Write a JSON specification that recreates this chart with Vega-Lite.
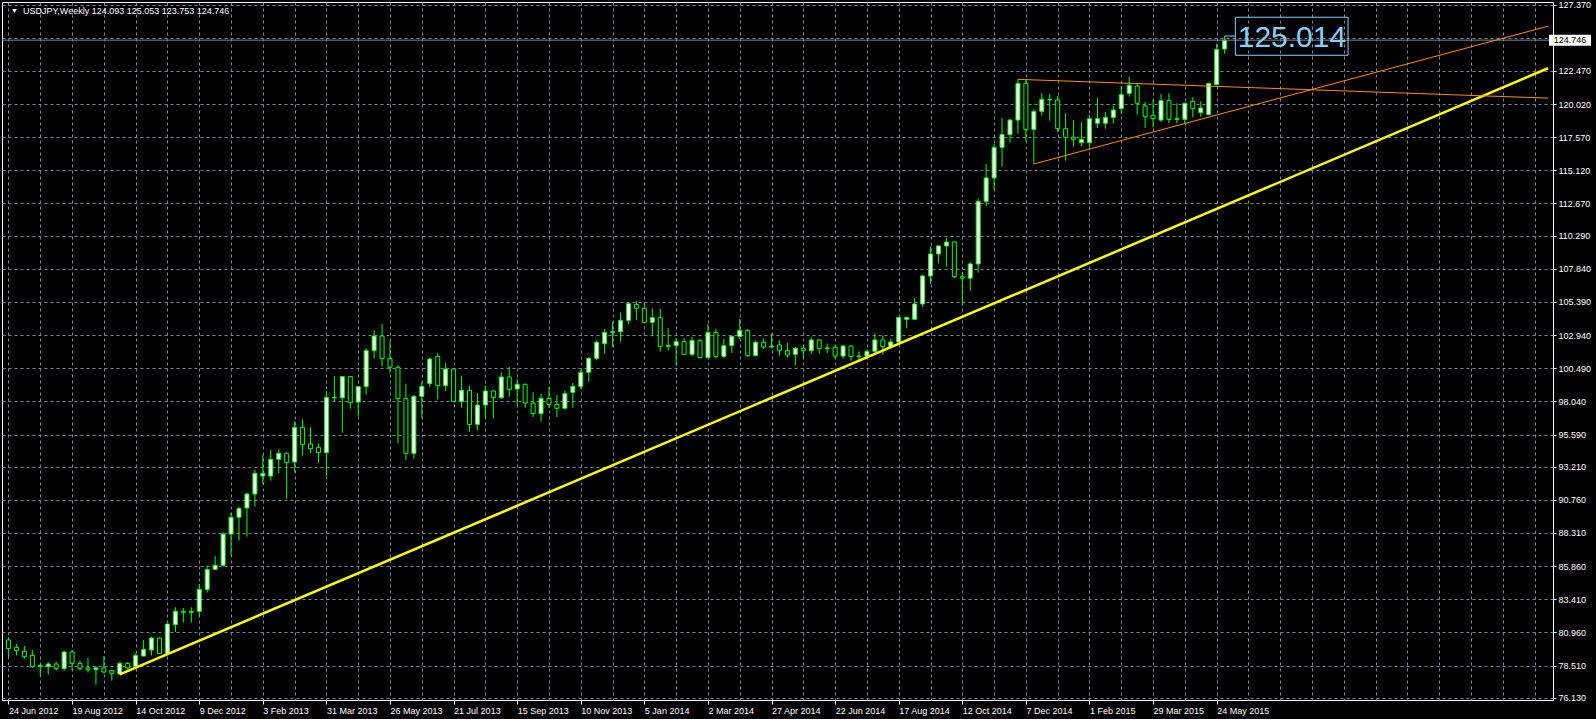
{
  "$schema": "https://vega.github.io/schema/vega-lite/v6.json",
  "width": 1551,
  "height": 698,
  "autosize": {"type": "none"},
  "padding": {"left": 2, "top": 2, "right": 43, "bottom": 19},
  "background": "#000000",
  "config": {"view": {"stroke": "#ffffff", "strokeWidth": 1}},
  "resolve": {"axis": {"x": "independent", "y": "independent"}},
  "datasets": {
    "candles": [
      {"d":"2012-06-24","o":80.40,"h":80.59,"l":79.12,"c":79.76},
      {"d":"2012-07-01","o":79.85,"h":80.10,"l":79.26,"c":79.61},
      {"d":"2012-07-08","o":79.56,"h":79.95,"l":79.02,"c":79.16},
      {"d":"2012-07-15","o":79.26,"h":79.66,"l":78.33,"c":78.43},
      {"d":"2012-07-22","o":78.43,"h":78.62,"l":77.74,"c":78.50},
      {"d":"2012-07-29","o":78.43,"h":78.77,"l":77.83,"c":78.62},
      {"d":"2012-08-05","o":78.62,"h":78.82,"l":78.13,"c":78.28},
      {"d":"2012-08-12","o":78.28,"h":79.61,"l":78.13,"c":79.51},
      {"d":"2012-08-19","o":79.51,"h":79.66,"l":78.18,"c":78.67},
      {"d":"2012-08-26","o":78.67,"h":78.87,"l":78.13,"c":78.28},
      {"d":"2012-09-02","o":78.33,"h":79.07,"l":77.98,"c":78.20},
      {"d":"2012-09-09","o":78.20,"h":78.47,"l":77.09,"c":78.33},
      {"d":"2012-09-16","o":78.33,"h":79.21,"l":77.93,"c":78.03},
      {"d":"2012-09-23","o":78.13,"h":78.18,"l":77.39,"c":77.93},
      {"d":"2012-09-30","o":77.88,"h":78.77,"l":77.85,"c":78.67},
      {"d":"2012-10-07","o":78.67,"h":78.77,"l":78.18,"c":78.33},
      {"d":"2012-10-14","o":78.43,"h":79.41,"l":78.23,"c":79.26},
      {"d":"2012-10-21","o":79.21,"h":80.40,"l":79.21,"c":79.71},
      {"d":"2012-10-28","o":79.66,"h":80.64,"l":79.26,"c":80.54},
      {"d":"2012-11-04","o":80.54,"h":80.59,"l":79.36,"c":79.41},
      {"d":"2012-11-11","o":79.41,"h":81.58,"l":79.31,"c":81.58},
      {"d":"2012-11-18","o":81.53,"h":82.81,"l":80.99,"c":82.52},
      {"d":"2012-11-25","o":82.52,"h":82.76,"l":81.68,"c":82.45},
      {"d":"2012-12-02","o":82.45,"h":82.81,"l":81.68,"c":82.50},
      {"d":"2012-12-09","o":82.52,"h":84.54,"l":82.12,"c":84.14},
      {"d":"2012-12-16","o":84.14,"h":85.90,"l":83.90,"c":85.60},
      {"d":"2012-12-23","o":85.62,"h":86.61,"l":85.57,"c":85.92},
      {"d":"2012-12-30","o":85.92,"h":88.38,"l":85.82,"c":88.23},
      {"d":"2013-01-06","o":88.23,"h":89.81,"l":86.61,"c":89.47},
      {"d":"2013-01-13","o":89.47,"h":90.26,"l":87.74,"c":90.11},
      {"d":"2013-01-20","o":90.16,"h":91.29,"l":88.04,"c":91.19},
      {"d":"2013-01-27","o":91.19,"h":92.97,"l":90.26,"c":92.72},
      {"d":"2013-02-03","o":92.52,"h":94.10,"l":91.93,"c":92.72},
      {"d":"2013-02-10","o":92.52,"h":94.45,"l":92.18,"c":93.76},
      {"d":"2013-02-17","o":93.76,"h":94.49,"l":92.72,"c":94.20},
      {"d":"2013-02-24","o":94.20,"h":94.25,"l":90.85,"c":93.51},
      {"d":"2013-03-03","o":93.56,"h":96.56,"l":92.77,"c":96.12},
      {"d":"2013-03-10","o":96.12,"h":96.71,"l":94.05,"c":94.84},
      {"d":"2013-03-17","o":94.89,"h":96.12,"l":94.20,"c":94.54},
      {"d":"2013-03-24","o":94.64,"h":94.94,"l":93.51,"c":94.25},
      {"d":"2013-03-31","o":94.25,"h":98.78,"l":92.52,"c":98.34},
      {"d":"2013-04-07","o":98.34,"h":99.92,"l":98.04,"c":98.30},
      {"d":"2013-04-14","o":98.30,"h":99.92,"l":95.73,"c":99.87},
      {"d":"2013-04-21","o":99.87,"h":99.92,"l":97.50,"c":97.94},
      {"d":"2013-04-28","o":97.99,"h":99.18,"l":96.96,"c":99.13},
      {"d":"2013-05-05","o":99.13,"h":101.99,"l":98.54,"c":101.79},
      {"d":"2013-05-12","o":101.79,"h":103.32,"l":101.20,"c":102.87},
      {"d":"2013-05-19","o":102.87,"h":103.76,"l":100.61,"c":101.20},
      {"d":"2013-05-26","o":101.20,"h":102.48,"l":100.16,"c":100.56},
      {"d":"2013-06-02","o":100.56,"h":100.71,"l":94.94,"c":98.24},
      {"d":"2013-06-09","o":98.24,"h":99.35,"l":93.70,"c":94.20},
      {"d":"2013-06-16","o":94.20,"h":98.51,"l":93.80,"c":98.41},
      {"d":"2013-06-23","o":98.41,"h":99.50,"l":96.84,"c":99.15},
      {"d":"2013-06-30","o":99.35,"h":101.27,"l":99.10,"c":101.17},
      {"d":"2013-07-07","o":101.37,"h":101.57,"l":98.17,"c":99.20},
      {"d":"2013-07-14","o":99.20,"h":100.88,"l":98.81,"c":100.43},
      {"d":"2013-07-21","o":100.43,"h":100.48,"l":97.98,"c":98.02},
      {"d":"2013-07-28","o":98.02,"h":99.94,"l":97.57,"c":98.86},
      {"d":"2013-08-04","o":98.86,"h":99.20,"l":95.80,"c":96.34},
      {"d":"2013-08-11","o":96.34,"h":98.66,"l":95.90,"c":97.77},
      {"d":"2013-08-18","o":97.77,"h":99.20,"l":96.79,"c":98.81},
      {"d":"2013-08-25","o":98.81,"h":98.86,"l":96.79,"c":98.31},
      {"d":"2013-09-01","o":98.31,"h":100.19,"l":98.22,"c":99.84},
      {"d":"2013-09-08","o":99.84,"h":100.58,"l":98.36,"c":98.91},
      {"d":"2013-09-15","o":98.96,"h":99.69,"l":97.72,"c":99.30},
      {"d":"2013-09-22","o":99.30,"h":99.35,"l":97.57,"c":97.92},
      {"d":"2013-09-29","o":97.92,"h":98.71,"l":96.88,"c":97.13},
      {"d":"2013-10-06","o":97.13,"h":98.61,"l":96.54,"c":98.26},
      {"d":"2013-10-13","o":98.26,"h":99.10,"l":97.53,"c":97.82},
      {"d":"2013-10-20","o":97.82,"h":98.51,"l":96.88,"c":97.53},
      {"d":"2013-10-27","o":97.53,"h":98.86,"l":97.43,"c":98.61},
      {"d":"2013-11-03","o":98.71,"h":99.40,"l":97.57,"c":99.15},
      {"d":"2013-11-10","o":99.15,"h":100.38,"l":98.96,"c":100.19},
      {"d":"2013-11-17","o":100.19,"h":101.32,"l":99.50,"c":101.22},
      {"d":"2013-11-24","o":101.22,"h":102.55,"l":101.07,"c":102.41},
      {"d":"2013-12-01","o":102.30,"h":103.39,"l":101.57,"c":103.14},
      {"d":"2013-12-08","o":103.14,"h":103.93,"l":102.06,"c":103.19},
      {"d":"2013-12-15","o":103.19,"h":104.62,"l":102.45,"c":104.03},
      {"d":"2013-12-22","o":104.03,"h":105.31,"l":103.74,"c":105.26},
      {"d":"2013-12-29","o":105.21,"h":105.46,"l":104.03,"c":104.92},
      {"d":"2014-01-05","o":104.92,"h":105.31,"l":103.83,"c":103.88},
      {"d":"2014-01-12","o":103.88,"h":104.92,"l":102.85,"c":104.23},
      {"d":"2014-01-19","o":104.23,"h":104.87,"l":101.72,"c":102.11},
      {"d":"2014-01-26","o":102.11,"h":103.44,"l":101.81,"c":102.16},
      {"d":"2014-02-02","o":102.16,"h":102.70,"l":100.68,"c":102.45},
      {"d":"2014-02-09","o":102.45,"h":102.70,"l":101.47,"c":101.52},
      {"d":"2014-02-16","o":101.52,"h":102.80,"l":101.37,"c":102.55},
      {"d":"2014-02-23","o":102.55,"h":102.65,"l":101.22,"c":101.27},
      {"d":"2014-03-02","o":101.27,"h":103.74,"l":101.22,"c":103.14},
      {"d":"2014-03-09","o":103.14,"h":103.39,"l":101.22,"c":101.37},
      {"d":"2014-03-16","o":101.37,"h":102.65,"l":101.22,"c":102.16},
      {"d":"2014-03-23","o":102.16,"h":102.90,"l":101.62,"c":102.85},
      {"d":"2014-03-30","o":102.85,"h":104.13,"l":102.65,"c":103.29},
      {"d":"2014-04-06","o":103.29,"h":103.39,"l":101.32,"c":101.42},
      {"d":"2014-04-13","o":101.42,"h":102.55,"l":101.37,"c":102.41},
      {"d":"2014-04-20","o":102.41,"h":102.70,"l":101.91,"c":102.06},
      {"d":"2014-04-27","o":102.06,"h":103.05,"l":101.96,"c":102.11},
      {"d":"2014-05-04","o":102.21,"h":102.55,"l":101.42,"c":101.81},
      {"d":"2014-05-11","o":101.81,"h":102.36,"l":101.27,"c":101.47},
      {"d":"2014-05-18","o":101.52,"h":102.06,"l":100.73,"c":101.96},
      {"d":"2014-05-25","o":101.96,"h":102.23,"l":101.20,"c":101.79},
      {"d":"2014-06-01","o":101.79,"h":102.77,"l":101.54,"c":102.58},
      {"d":"2014-06-08","o":102.58,"h":102.63,"l":101.59,"c":101.94},
      {"d":"2014-06-15","o":101.94,"h":102.33,"l":101.59,"c":101.99},
      {"d":"2014-06-22","o":102.04,"h":102.23,"l":101.20,"c":101.39},
      {"d":"2014-06-29","o":101.39,"h":102.23,"l":101.20,"c":102.13},
      {"d":"2014-07-06","o":102.13,"h":102.18,"l":101.05,"c":101.35},
      {"d":"2014-07-13","o":101.35,"h":101.74,"l":101.10,"c":101.39},
      {"d":"2014-07-20","o":101.39,"h":101.89,"l":101.15,"c":101.74},
      {"d":"2014-07-27","o":101.74,"h":103.07,"l":101.64,"c":102.58},
      {"d":"2014-08-03","o":102.58,"h":102.92,"l":101.49,"c":102.08},
      {"d":"2014-08-10","o":102.08,"h":102.68,"l":102.03,"c":102.43},
      {"d":"2014-08-17","o":102.43,"h":104.30,"l":102.38,"c":104.25},
      {"d":"2014-08-24","o":104.11,"h":104.30,"l":103.46,"c":104.25},
      {"d":"2014-08-31","o":104.11,"h":105.68,"l":104.06,"c":105.24},
      {"d":"2014-09-07","o":105.24,"h":107.41,"l":105.04,"c":107.31},
      {"d":"2014-09-14","o":107.31,"h":109.48,"l":106.72,"c":108.94},
      {"d":"2014-09-21","o":108.94,"h":109.58,"l":108.25,"c":109.53},
      {"d":"2014-09-28","o":109.53,"h":110.12,"l":108.00,"c":109.82},
      {"d":"2014-10-05","o":109.82,"h":109.87,"l":107.16,"c":107.26},
      {"d":"2014-10-12","o":107.26,"h":107.61,"l":105.14,"c":107.15},
      {"d":"2014-10-19","o":107.15,"h":108.34,"l":106.23,"c":108.20},
      {"d":"2014-10-26","o":108.20,"h":113.03,"l":107.56,"c":112.83},
      {"d":"2014-11-02","o":112.83,"h":115.59,"l":112.49,"c":114.56},
      {"d":"2014-11-09","o":114.56,"h":117.07,"l":113.67,"c":116.82},
      {"d":"2014-11-16","o":116.82,"h":118.99,"l":115.39,"c":117.76},
      {"d":"2014-11-23","o":117.76,"h":118.94,"l":117.17,"c":118.84},
      {"d":"2014-11-30","o":118.84,"h":121.85,"l":117.81,"c":121.55},
      {"d":"2014-12-07","o":121.55,"h":121.80,"l":117.27,"c":118.15},
      {"d":"2014-12-14","o":118.15,"h":119.63,"l":115.59,"c":119.48},
      {"d":"2014-12-21","o":119.48,"h":120.82,"l":119.19,"c":120.37},
      {"d":"2014-12-28","o":120.37,"h":120.77,"l":118.79,"c":120.33},
      {"d":"2015-01-04","o":120.33,"h":120.62,"l":117.96,"c":118.20},
      {"d":"2015-01-11","o":118.20,"h":119.34,"l":115.84,"c":117.56},
      {"d":"2015-01-18","o":117.56,"h":118.84,"l":116.87,"c":117.41},
      {"d":"2015-01-25","o":117.17,"h":118.70,"l":116.92,"c":117.41},
      {"d":"2015-02-01","o":117.17,"h":119.19,"l":116.67,"c":118.94},
      {"d":"2015-02-08","o":118.60,"h":120.47,"l":118.25,"c":118.94},
      {"d":"2015-02-15","o":118.60,"h":119.44,"l":118.20,"c":119.04},
      {"d":"2015-02-22","o":119.04,"h":119.88,"l":118.60,"c":119.58},
      {"d":"2015-03-01","o":119.68,"h":121.36,"l":119.29,"c":120.72},
      {"d":"2015-03-08","o":120.82,"h":122.05,"l":120.57,"c":121.41},
      {"d":"2015-03-15","o":121.36,"h":121.51,"l":119.24,"c":120.08},
      {"d":"2015-03-22","o":119.88,"h":120.17,"l":118.25,"c":119.09},
      {"d":"2015-03-29","o":119.19,"h":120.37,"l":118.30,"c":118.94},
      {"d":"2015-04-05","o":118.84,"h":120.77,"l":118.70,"c":120.27},
      {"d":"2015-04-12","o":120.27,"h":120.82,"l":118.60,"c":118.89},
      {"d":"2015-04-19","o":118.89,"h":120.08,"l":118.60,"c":118.94},
      {"d":"2015-04-26","o":118.89,"h":120.13,"l":118.60,"c":120.08},
      {"d":"2015-05-03","o":120.22,"h":120.52,"l":119.04,"c":119.68},
      {"d":"2015-05-10","o":119.39,"h":120.22,"l":119.09,"c":119.73},
      {"d":"2015-05-17","o":119.24,"h":121.60,"l":119.19,"c":121.55},
      {"d":"2015-05-24","o":121.46,"h":124.46,"l":121.41,"c":124.07},
      {"d":"2015-05-31","o":124.093,"h":125.053,"l":123.753,"c":124.746}
    ],
    "trend": [
      {"id":"yellow","d":"2012-09-30T00:00:00Z","p":77.85},
      {"id":"yellow","d":"2016-03-10T19:30:00Z","p":122.67},
      {"id":"upper","d":"2014-11-30T00:00:00Z","p":121.85},
      {"id":"upper","d":"2016-03-10T19:30:00Z","p":120.46},
      {"id":"lower","d":"2014-12-14T00:00:00Z","p":115.59},
      {"id":"lower","d":"2016-03-10T19:30:00Z","p":125.78},
      {"id":"callout","d":"2015-05-31T00:00:00Z","p":125.053},
      {"id":"callout","d":"2015-06-09T10:48:00Z","p":125.053}
    ]
  },
  "layer": [
    {
      "data": {"name": "candles"},
      "mark": {"type": "rule", "color": "#00ff00", "strokeWidth": 1},
      "encoding": {
        "x": {"field": "d", "type": "temporal",
          "scale": {"type": "utc", "domain": [1340382600000, 1457638200000], "nice": false},
          "axis": {
            "values": [1340496000000,1342915200000,1345334400000,1347753600000,1350172800000,1352592000000,1355011200000,1357430400000,1359849600000,1362268800000,1364688000000,1367107200000,1369526400000,1371945600000,1374364800000,1376784000000,1379203200000,1381622400000,1384041600000,1386460800000,1388880000000,1391299200000,1393718400000,1396137600000,1398556800000,1400976000000,1403395200000,1405814400000,1408233600000,1410652800000,1413072000000,1415491200000,1417910400000,1420329600000,1422748800000,1425168000000,1427587200000,1430006400000,1432425600000,1434844800000,1437264000000,1439683200000,1442102400000,1444521600000,1446940800000,1449360000000,1451779200000,1454198400000,1456617600000],
            "grid": true, "gridColor": "#778899", "gridDash": [3, 3], "gridWidth": 1,
            "domain": false, "title": null,
            "ticks": true, "tickColor": "#ffffff", "tickSize": 4,
            "tickOpacity": {"condition": {"test": "round((datum.value - 1340496000000) / 2419200000) % 2 == 0 && datum.value <= 1432425600000", "value": 1}, "value": 0},
            "labelExpr": "(round((datum.value - 1340496000000) / 2419200000) % 2 == 0 && datum.value <= 1432425600000) ? utcFormat(datum.value, '%-d %b %Y') : ''",
            "labelAlign": "left", "labelColor": "#ffffff", "labelFont": "Liberation Sans", "labelFontSize": 9,
            "labelPadding": 2, "labelOverlap": false, "labelFlush": false, "labelBound": false
          }
        },
        "y": {"field": "l", "type": "quantitative",
          "scale": {"domain": [75.96, 127.568], "nice": false, "zero": false},
          "axis": {
            "orient": "right",
            "values": [76.13, 78.51, 80.96, 83.41, 85.86, 88.31, 90.76, 93.21, 95.59, 98.04, 100.49, 102.94, 105.39, 107.84, 110.29, 112.67, 115.12, 117.57, 120.02, 122.47, 124.92, 127.37],
            "labelExpr": "(datum.value > 124.9 && datum.value < 124.95) ? '' : format(datum.value, '.3f')",
            "grid": true, "gridColor": "#778899", "gridDash": [3, 3], "gridWidth": 1,
            "domain": false, "title": null,
            "tickColor": "#ffffff", "tickSize": 3,
            "labelColor": "#ffffff", "labelFont": "Liberation Sans", "labelFontSize": 9,
            "labelPadding": 2, "labelOverlap": false, "labelFlush": false, "labelBound": false
          }
        },
        "y2": {"field": "h"}
      }
    },
    {
      "data": {"name": "candles"},
      "mark": {"type": "bar", "size": 4, "stroke": "#00ff00", "strokeWidth": 1},
      "encoding": {
        "x": {"field": "d", "type": "temporal", "scale": {"type": "utc", "domain": [1340382600000, 1457638200000], "nice": false}, "axis": null},
        "y": {"field": "o", "type": "quantitative", "scale": {"domain": [75.96, 127.568], "nice": false, "zero": false}, "axis": null},
        "y2": {"field": "c"},
        "fill": {"condition": {"test": "datum.c >= datum.o", "value": "#ffffff"}, "value": "#000000"}
      }
    },
    {
      "data": {"values": [{"p": 124.746}]},
      "mark": {"type": "rule", "color": "#778899", "strokeWidth": 1},
      "encoding": {
        "y": {"field": "p", "type": "quantitative", "scale": {"domain": [75.96, 127.568], "nice": false, "zero": false}, "axis": null}
      }
    },
    {
      "data": {"name": "trend"},
      "transform": [{"filter": "datum.id == 'yellow'"}],
      "mark": {"type": "line", "color": "#ffff00", "strokeWidth": 2.5, "clip": true},
      "encoding": {
        "x": {"field": "d", "type": "temporal", "scale": {"type": "utc", "domain": [1340382600000, 1457638200000], "nice": false}, "axis": null},
        "y": {"field": "p", "type": "quantitative", "scale": {"domain": [75.96, 127.568], "nice": false, "zero": false}, "axis": null}
      }
    },
    {
      "data": {"name": "trend"},
      "transform": [{"filter": "datum.id == 'upper' || datum.id == 'lower'"}],
      "mark": {"type": "line", "color": "#ff8c00", "strokeWidth": 1, "clip": true},
      "encoding": {
        "x": {"field": "d", "type": "temporal", "scale": {"type": "utc", "domain": [1340382600000, 1457638200000], "nice": false}, "axis": null},
        "y": {"field": "p", "type": "quantitative", "scale": {"domain": [75.96, 127.568], "nice": false, "zero": false}, "axis": null},
        "detail": {"field": "id"}
      }
    },
    {
      "data": {"name": "trend"},
      "transform": [{"filter": "datum.id == 'callout'"}],
      "mark": {"type": "line", "color": "#87cefa", "strokeWidth": 1, "clip": true},
      "encoding": {
        "x": {"field": "d", "type": "temporal", "scale": {"type": "utc", "domain": [1340382600000, 1457638200000], "nice": false}, "axis": null},
        "y": {"field": "p", "type": "quantitative", "scale": {"domain": [75.96, 127.568], "nice": false, "zero": false}, "axis": null}
      }
    },
    {
      "data": {"values": [{"d1": "2015-06-09T10:48:00Z", "d2": "2015-09-16T17:00:00Z", "p1": 123.63, "p2": 126.44}]},
      "mark": {"type": "rect", "fill": null, "fillOpacity": 0, "stroke": "#87cefa", "strokeWidth": 1},
      "encoding": {
        "x": {"field": "d1", "type": "temporal", "scale": {"type": "utc", "domain": [1340382600000, 1457638200000], "nice": false}, "axis": null},
        "x2": {"field": "d2"},
        "y": {"field": "p1", "type": "quantitative", "scale": {"domain": [75.96, 127.568], "nice": false, "zero": false}, "axis": null},
        "y2": {"field": "p2"}
      }
    },
    {
      "data": {"values": [{"d": "2015-06-11T13:00:00Z", "p": 124.93, "t": "125.014"}]},
      "mark": {"type": "text", "align": "left", "baseline": "middle", "font": "Liberation Sans", "fontSize": 30, "color": "#87cefa"},
      "encoding": {
        "x": {"field": "d", "type": "temporal", "scale": {"type": "utc", "domain": [1340382600000, 1457638200000], "nice": false}, "axis": null},
        "y": {"field": "p", "type": "quantitative", "scale": {"domain": [75.96, 127.568], "nice": false, "zero": false}, "axis": null},
        "text": {"field": "t"}
      }
    },
    {
      "data": {"values": [{"d": "2016-03-10T19:30:00Z", "p": 124.746}]},
      "mark": {"type": "point", "shape": "M-1,-0.262H1V0.262H-1Z", "size": 1764, "filled": true, "color": "#ffffff", "opacity": 1, "xOffset": 22, "clip": false},
      "encoding": {
        "x": {"field": "d", "type": "temporal", "scale": {"type": "utc", "domain": [1340382600000, 1457638200000], "nice": false}, "axis": null},
        "y": {"field": "p", "type": "quantitative", "scale": {"domain": [75.96, 127.568], "nice": false, "zero": false}, "axis": null}
      }
    },
    {
      "data": {"values": [{"d": "2016-03-10T19:30:00Z", "p": 124.746, "t": "124.746"}]},
      "mark": {"type": "text", "align": "center", "baseline": "middle", "font": "Liberation Sans", "fontSize": 9, "color": "#000000", "xOffset": 22, "clip": false},
      "encoding": {
        "x": {"field": "d", "type": "temporal", "scale": {"type": "utc", "domain": [1340382600000, 1457638200000], "nice": false}, "axis": null},
        "y": {"field": "p", "type": "quantitative", "scale": {"domain": [75.96, 127.568], "nice": false, "zero": false}, "axis": null},
        "text": {"field": "t"}
      }
    },
    {
      "data": {"values": [{"d": "2012-06-22T16:30:00Z", "p": 127.568, "t": "USDJPY,Weekly  124.093 125.053 123.753 124.746"}]},
      "mark": {"type": "text", "align": "left", "baseline": "middle", "font": "Liberation Sans", "fontSize": 9, "color": "#ffffff", "xOffset": 16, "yOffset": 9, "clip": false},
      "encoding": {
        "x": {"field": "d", "type": "temporal", "scale": {"type": "utc", "domain": [1340382600000, 1457638200000], "nice": false}, "axis": null},
        "y": {"field": "p", "type": "quantitative", "scale": {"domain": [75.96, 127.568], "nice": false, "zero": false}, "axis": null},
        "text": {"field": "t"}
      }
    },
    {
      "data": {"values": [{"d": "2012-06-22T16:30:00Z", "p": 127.568}]},
      "mark": {"type": "point", "shape": "triangle-down", "size": 22, "filled": true, "color": "#ffffff", "opacity": 1, "xOffset": 7.5, "yOffset": 9, "clip": false},
      "encoding": {
        "x": {"field": "d", "type": "temporal", "scale": {"type": "utc", "domain": [1340382600000, 1457638200000], "nice": false}, "axis": null},
        "y": {"field": "p", "type": "quantitative", "scale": {"domain": [75.96, 127.568], "nice": false, "zero": false}, "axis": null}
      }
    }
  ]
}
